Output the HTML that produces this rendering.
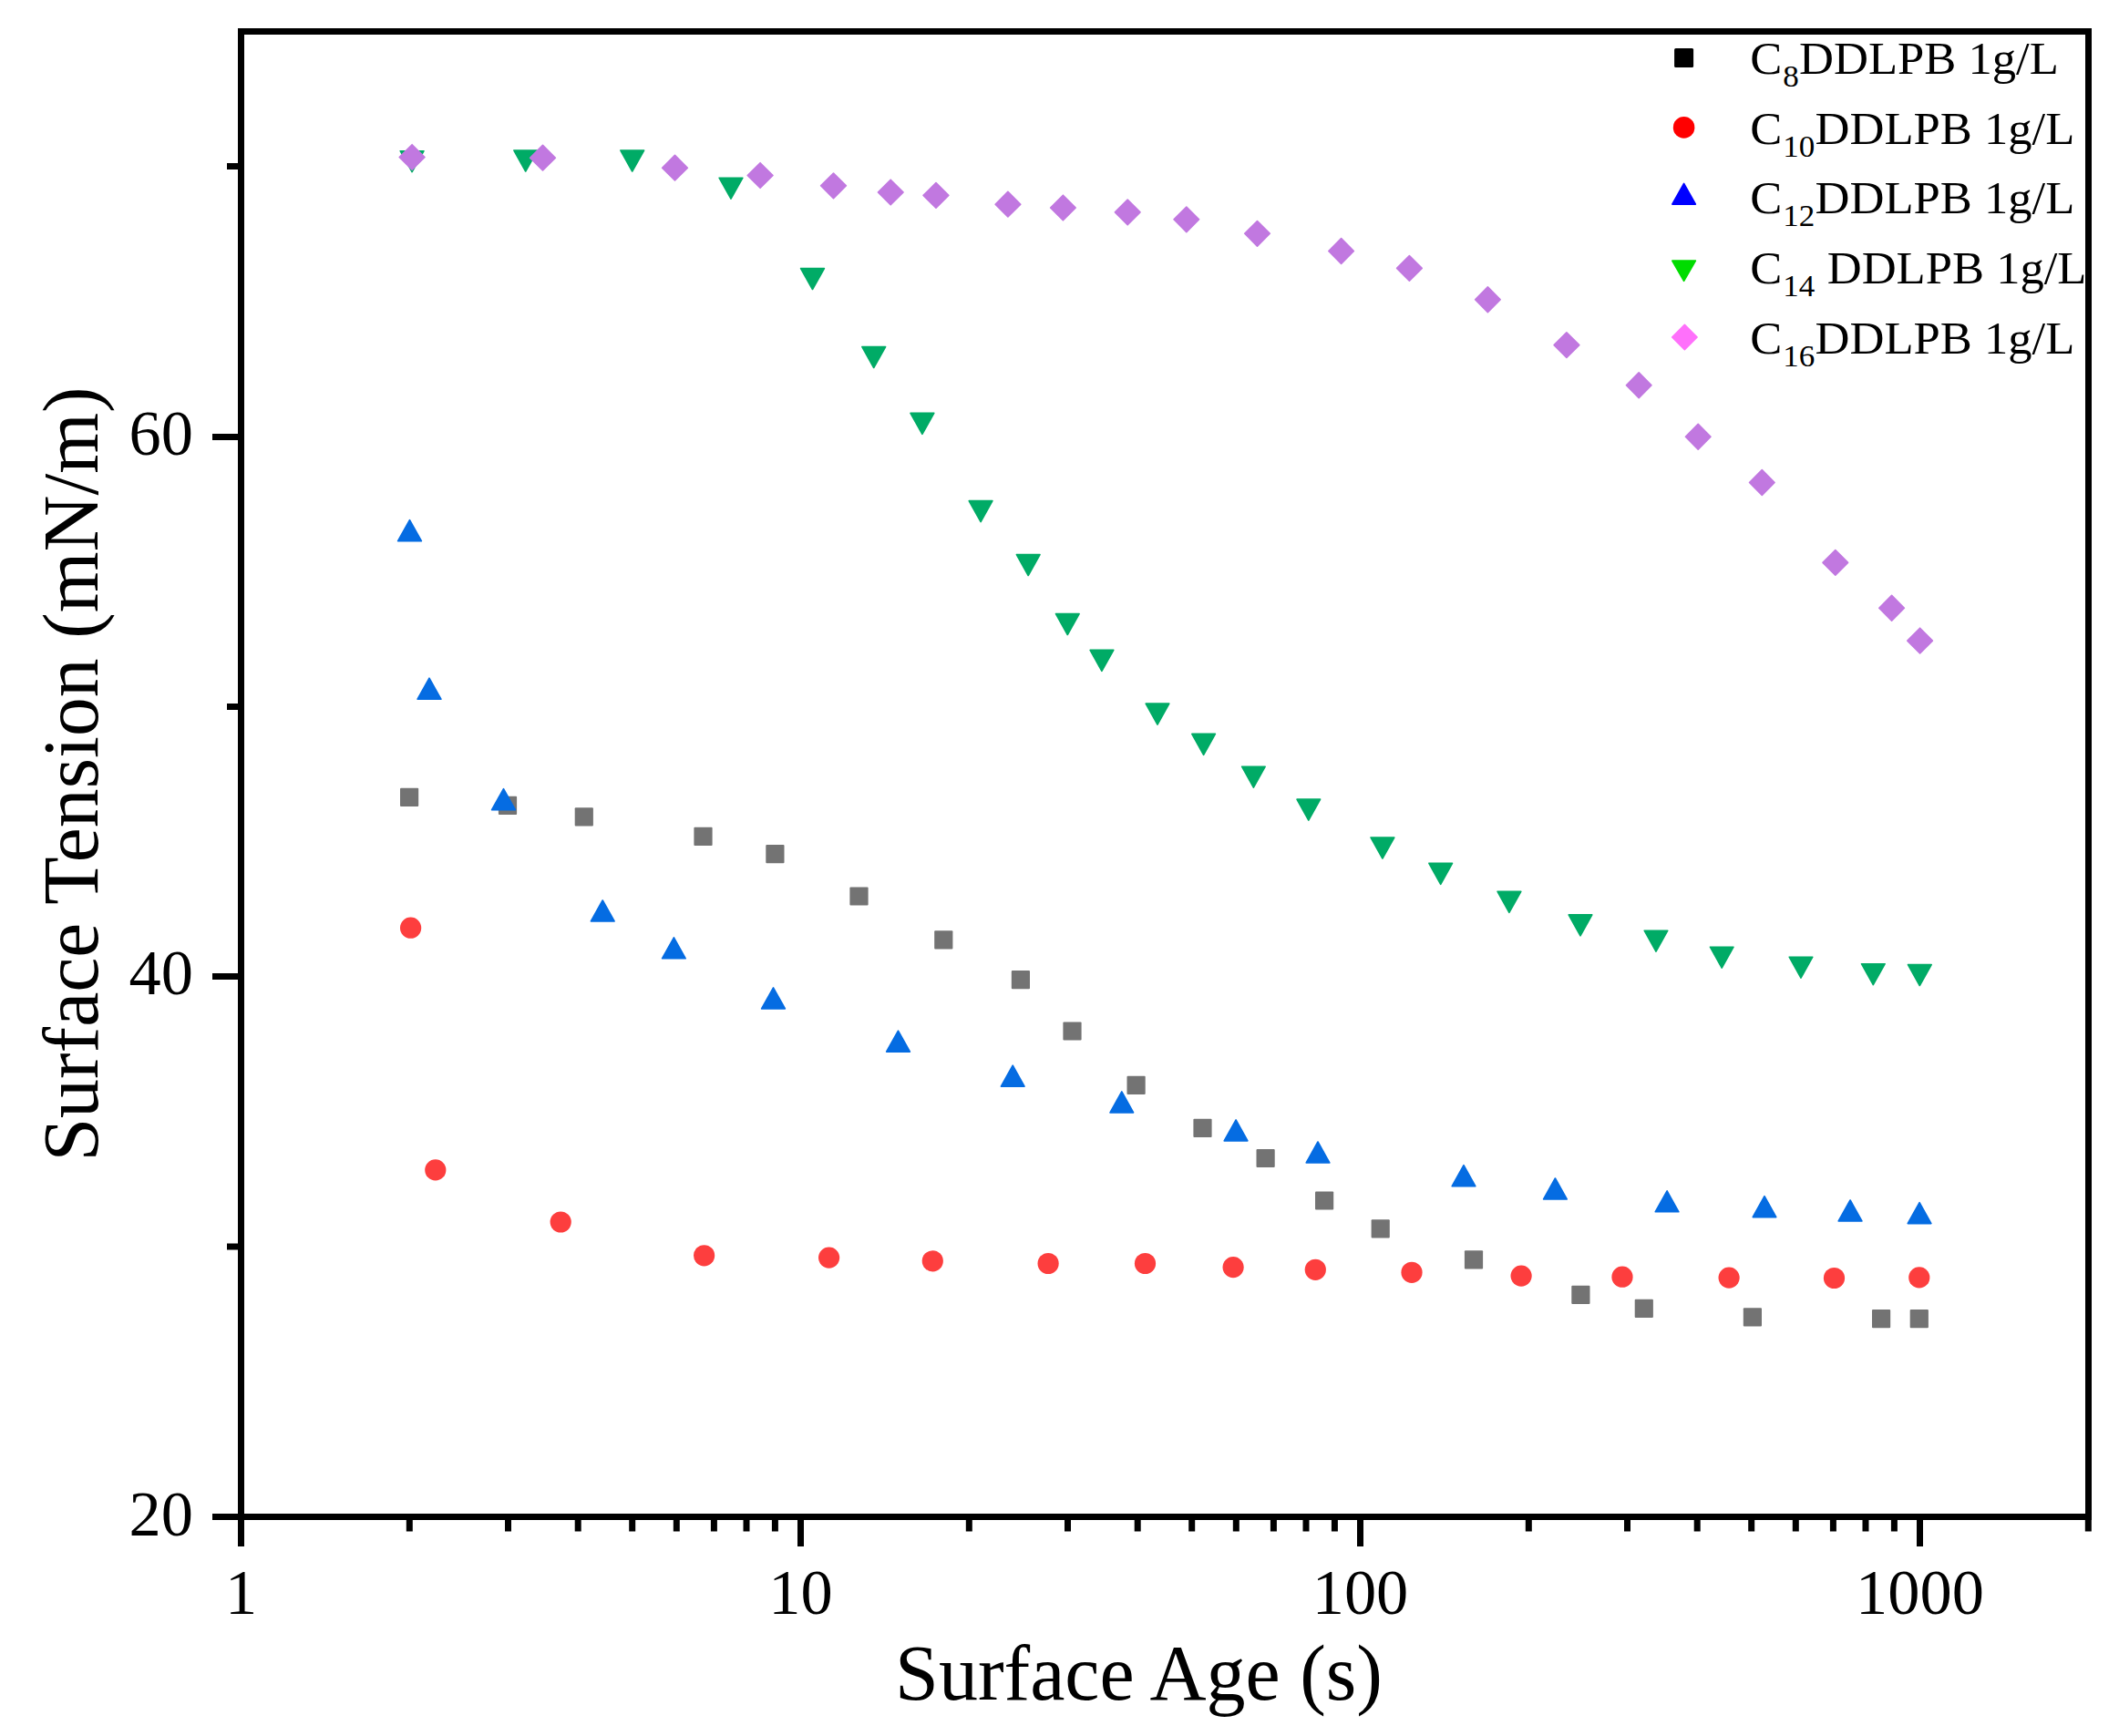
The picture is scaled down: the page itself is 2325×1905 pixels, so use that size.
<!DOCTYPE html>
<html lang="en"><head><meta charset="utf-8"><title>Surface Tension vs Surface Age</title>
<style>html,body{margin:0;padding:0;background:#fff}body{width:2325px;height:1905px;overflow:hidden}svg{display:block}text{font-family:"Liberation Serif","Times New Roman",serif;fill:#000}</style></head><body>
<svg width="2325" height="1905" viewBox="0 0 2325 1905">
<rect width="2325" height="1905" fill="#fff"/>
<g fill="#737373">
<rect x="439" y="864.7" width="20.2" height="20.2" rx="1"/>
<rect x="546.9" y="873.7" width="20.2" height="20.2" rx="1"/>
<rect x="630.7" y="886.2" width="20.2" height="20.2" rx="1"/>
<rect x="761.4" y="907.7" width="20.2" height="20.2" rx="1"/>
<rect x="840.3" y="927" width="20.2" height="20.2" rx="1"/>
<rect x="932.4" y="973.4" width="20.2" height="20.2" rx="1"/>
<rect x="1025.2" y="1021.3" width="20.2" height="20.2" rx="1"/>
<rect x="1109.8" y="1065.1" width="20.2" height="20.2" rx="1"/>
<rect x="1166.4" y="1121.4" width="20.2" height="20.2" rx="1"/>
<rect x="1236.5" y="1180.7" width="20.2" height="20.2" rx="1"/>
<rect x="1309.4" y="1227.8" width="20.2" height="20.2" rx="1"/>
<rect x="1378.5" y="1260.9" width="20.2" height="20.2" rx="1"/>
<rect x="1443" y="1307.4" width="20.2" height="20.2" rx="1"/>
<rect x="1504.6" y="1338.3" width="20.2" height="20.2" rx="1"/>
<rect x="1606.9" y="1372.2" width="20.2" height="20.2" rx="1"/>
<rect x="1724.3" y="1410.7" width="20.2" height="20.2" rx="1"/>
<rect x="1793.7" y="1425.8" width="20.2" height="20.2" rx="1"/>
<rect x="1912.8" y="1435.3" width="20.2" height="20.2" rx="1"/>
<rect x="2054" y="1437" width="20.2" height="20.2" rx="1"/>
<rect x="2095.7" y="1437" width="20.2" height="20.2" rx="1"/>
</g>
<g fill="#FD3E3E">
<circle cx="450.6" cy="1018.2" r="11.6"/>
<circle cx="477.8" cy="1283.9" r="11.6"/>
<circle cx="615.2" cy="1341" r="11.6"/>
<circle cx="772.6" cy="1377.8" r="11.6"/>
<circle cx="909.6" cy="1380.1" r="11.6"/>
<circle cx="1023.3" cy="1383.8" r="11.6"/>
<circle cx="1150.1" cy="1386.5" r="11.6"/>
<circle cx="1256.5" cy="1386.5" r="11.6"/>
<circle cx="1353.1" cy="1390.6" r="11.6"/>
<circle cx="1443.3" cy="1393.3" r="11.6"/>
<circle cx="1549" cy="1396.3" r="11.6"/>
<circle cx="1669.1" cy="1400.1" r="11.6"/>
<circle cx="1780" cy="1401.2" r="11.6"/>
<circle cx="1897.1" cy="1402.1" r="11.6"/>
<circle cx="2012.5" cy="1402.5" r="11.6"/>
<circle cx="2105.8" cy="1401.9" r="11.6"/>
</g>
<g fill="#056CE2" stroke="#056CE2" stroke-width="1.6" stroke-linejoin="round">
<polygon points="449.5,570.7 462.4,593.7 436.6,593.7"/>
<polygon points="471,744.2 483.9,767.2 458.1,767.2"/>
<polygon points="552.5,865.7 565.4,888.7 539.6,888.7"/>
<polygon points="661.2,988 674.1,1011 648.4,1011"/>
<polygon points="739.4,1028.8 752.2,1051.8 726.5,1051.8"/>
<polygon points="848.5,1083.9 861.4,1106.9 835.6,1106.9"/>
<polygon points="985.5,1131.1 998.4,1154.1 972.6,1154.1"/>
<polygon points="1111.2,1169.2 1124,1192.2 1098.4,1192.2"/>
<polygon points="1230.8,1197.9 1243.6,1220.9 1218,1220.9"/>
<polygon points="1356.1,1228.9 1368.9,1251.9 1343.2,1251.9"/>
<polygon points="1446,1253 1458.8,1276 1433.2,1276"/>
<polygon points="1606,1278.7 1618.8,1301.7 1593.2,1301.7"/>
<polygon points="1706.4,1293 1719.2,1316 1693.6,1316"/>
<polygon points="1829.1,1306.8 1841.9,1329.8 1816.2,1329.8"/>
<polygon points="1936,1312.6 1948.8,1335.6 1923.2,1335.6"/>
<polygon points="2030.1,1317 2042.9,1340 2017.2,1340"/>
<polygon points="2106.1,1319.6 2118.9,1342.6 2093.2,1342.6"/>
</g>
<g fill="#00AB66" stroke="#00AB66" stroke-width="1.6" stroke-linejoin="round">
<polygon points="439.2,165.7 465,165.7 452.1,188.7"/>
<polygon points="563.9,165 589.6,165 576.7,188"/>
<polygon points="680.9,165 706.6,165 693.7,188"/>
<polygon points="789.1,195.2 814.9,195.2 802,218.2"/>
<polygon points="878.6,294.5 904.4,294.5 891.5,317.5"/>
<polygon points="945.9,380.5 971.6,380.5 958.7,403.5"/>
<polygon points="999,453.4 1024.8,453.4 1011.9,476.4"/>
<polygon points="1063.2,549.6 1088.9,549.6 1076.1,572.6"/>
<polygon points="1115.4,608.5 1141,608.5 1128.2,631.5"/>
<polygon points="1158.5,673.5 1184.1,673.5 1171.3,696.5"/>
<polygon points="1196.1,713.4 1221.8,713.4 1208.9,736.4"/>
<polygon points="1257.2,772.1 1282.8,772.1 1270,795.1"/>
<polygon points="1307.8,805.4 1333.4,805.4 1320.6,828.4"/>
<polygon points="1362.6,841.2 1388.2,841.2 1375.4,864.2"/>
<polygon points="1423,877.1 1448.6,877.1 1435.8,900.1"/>
<polygon points="1504.1,919 1529.8,919 1516.9,942"/>
<polygon points="1567.9,947.3 1593.5,947.3 1580.7,970.3"/>
<polygon points="1643.1,978.3 1668.8,978.3 1655.9,1001.3"/>
<polygon points="1721.2,1003.9 1746.8,1003.9 1734,1026.9"/>
<polygon points="1804.2,1021.2 1829.8,1021.2 1817,1044.2"/>
<polygon points="1876.4,1039.2 1902,1039.2 1889.2,1062.2"/>
<polygon points="1963.2,1050.2 1988.8,1050.2 1976,1073.2"/>
<polygon points="2042.5,1057.7 2068.2,1057.7 2055.3,1080.7"/>
<polygon points="2093.5,1058.5 2119.2,1058.5 2106.3,1081.5"/>
</g>
<g fill="#C178E0" stroke="#C178E0" stroke-width="1.6" stroke-linejoin="round">
<polygon points="452.1,158.7 466,172.5 452.1,186.3 438.2,172.5"/>
<polygon points="595.5,159.3 609.4,173.2 595.5,187 581.6,173.2"/>
<polygon points="740.5,170.3 754.4,184.2 740.5,198 726.6,184.2"/>
<polygon points="834.1,178.7 848,192.5 834.1,206.3 820.2,192.5"/>
<polygon points="914.5,190 928.4,203.8 914.5,217.7 900.6,203.8"/>
<polygon points="977.2,197.2 991.1,211 977.2,224.8 963.4,211"/>
<polygon points="1027,200.6 1040.8,214.4 1027,228.2 1013.1,214.4"/>
<polygon points="1105.9,210.3 1119.8,224.2 1105.9,238 1092.1,224.2"/>
<polygon points="1166.4,214.2 1180.2,228 1166.4,241.8 1152.6,228"/>
<polygon points="1237.2,219.1 1251,232.9 1237.2,246.8 1223.4,232.9"/>
<polygon points="1301.8,227 1315.6,240.8 1301.8,254.7 1288,240.8"/>
<polygon points="1379.5,242.5 1393.3,256.3 1379.5,270.2 1365.7,256.3"/>
<polygon points="1471.6,261.6 1485.4,275.5 1471.6,289.4 1457.8,275.5"/>
<polygon points="1546.4,280.5 1560.2,294.4 1546.4,308.2 1532.6,294.4"/>
<polygon points="1632.4,314.9 1646.2,328.8 1632.4,342.7 1618.6,328.8"/>
<polygon points="1718.9,364.8 1732.8,378.6 1718.9,392.5 1705.1,378.6"/>
<polygon points="1798.2,408.9 1812,422.8 1798.2,436.7 1784.4,422.8"/>
<polygon points="1863.2,465.4 1877,479.3 1863.2,493.2 1849.4,479.3"/>
<polygon points="1933.3,515.6 1947.1,529.5 1933.3,543.4 1919.5,529.5"/>
<polygon points="2013.8,603.5 2027.6,617.4 2013.8,631.2 2000,617.4"/>
<polygon points="2075.6,653.4 2089.4,667.2 2075.6,681.1 2061.8,667.2"/>
<polygon points="2106.6,689.2 2120.4,703.1 2106.6,717 2092.8,703.1"/>
</g>
<g stroke="#000" stroke-width="7" fill="none">
<rect x="264.5" y="34.5" width="2027.0" height="1630.0"/>
<line x1="264.5" y1="1664.5" x2="264.5" y2="1697.0"/>
<line x1="449.3" y1="1664.5" x2="449.3" y2="1680.5"/>
<line x1="557.5" y1="1664.5" x2="557.5" y2="1680.5"/>
<line x1="634.2" y1="1664.5" x2="634.2" y2="1680.5"/>
<line x1="693.7" y1="1664.5" x2="693.7" y2="1680.5"/>
<line x1="742.3" y1="1664.5" x2="742.3" y2="1680.5"/>
<line x1="783.4" y1="1664.5" x2="783.4" y2="1680.5"/>
<line x1="819" y1="1664.5" x2="819" y2="1680.5"/>
<line x1="850.4" y1="1664.5" x2="850.4" y2="1680.5"/>
<line x1="878.5" y1="1664.5" x2="878.5" y2="1697.0"/>
<line x1="1063.3" y1="1664.5" x2="1063.3" y2="1680.5"/>
<line x1="1171.5" y1="1664.5" x2="1171.5" y2="1680.5"/>
<line x1="1248.2" y1="1664.5" x2="1248.2" y2="1680.5"/>
<line x1="1307.7" y1="1664.5" x2="1307.7" y2="1680.5"/>
<line x1="1356.3" y1="1664.5" x2="1356.3" y2="1680.5"/>
<line x1="1397.4" y1="1664.5" x2="1397.4" y2="1680.5"/>
<line x1="1433" y1="1664.5" x2="1433" y2="1680.5"/>
<line x1="1464.4" y1="1664.5" x2="1464.4" y2="1680.5"/>
<line x1="1492.5" y1="1664.5" x2="1492.5" y2="1697.0"/>
<line x1="1677.3" y1="1664.5" x2="1677.3" y2="1680.5"/>
<line x1="1785.5" y1="1664.5" x2="1785.5" y2="1680.5"/>
<line x1="1862.2" y1="1664.5" x2="1862.2" y2="1680.5"/>
<line x1="1921.7" y1="1664.5" x2="1921.7" y2="1680.5"/>
<line x1="1970.3" y1="1664.5" x2="1970.3" y2="1680.5"/>
<line x1="2011.4" y1="1664.5" x2="2011.4" y2="1680.5"/>
<line x1="2047" y1="1664.5" x2="2047" y2="1680.5"/>
<line x1="2078.4" y1="1664.5" x2="2078.4" y2="1680.5"/>
<line x1="2106.5" y1="1664.5" x2="2106.5" y2="1697.0"/>
<line x1="2291.3" y1="1664.5" x2="2291.3" y2="1680.5"/>
<line x1="233.0" y1="1664.5" x2="264.5" y2="1664.5"/>
<line x1="249.0" y1="1368" x2="264.5" y2="1368"/>
<line x1="233.0" y1="1071.5" x2="264.5" y2="1071.5"/>
<line x1="249.0" y1="775.5" x2="264.5" y2="775.5"/>
<line x1="233.0" y1="479.5" x2="264.5" y2="479.5"/>
<line x1="249.0" y1="182.5" x2="264.5" y2="182.5"/>
</g>
<g font-size="70.4" text-anchor="middle">
<text x="264.5" y="1770.8">1</text>
<text x="878.5" y="1770.8">10</text>
<text x="1492.5" y="1770.8">100</text>
<text x="2106.5" y="1770.8">1000</text>
</g>
<g font-size="70.4" text-anchor="end">
<text x="212" y="1685">20</text>
<text x="212" y="1091">40</text>
<text x="212" y="499">60</text>
</g>
<text x="1249.5" y="1864.7" font-size="86" text-anchor="middle">Surface Age (s)</text>
<text transform="translate(106.8 849.5) rotate(-90)" font-size="85.8" text-anchor="middle">Surface Tension (mN/m)</text>
<rect x="1837.1" y="53" width="21" height="21" rx="1.5" fill="#000"/>
<circle cx="1847.6" cy="139.9" r="11.8" fill="#f00"/>
<polygon points="1847.6,201.4 1860.4,224.1 1834.8,224.1" fill="#00f" stroke="#00f" stroke-width="1.6" stroke-linejoin="round"/>
<polygon points="1834.8,286.1 1860.4,286.1 1847.6,308.3" fill="#00dc00" stroke="#00dc00" stroke-width="1.6" stroke-linejoin="round"/>
<polygon points="1848.4,356.3 1862.1,370 1848.4,383.7 1834.7,370" fill="#ff70fb" stroke="#ff70fb" stroke-width="1.6" stroke-linejoin="round"/>
<g font-size="51" xml:space="preserve" style="white-space:pre">
<text transform="translate(1920.3 80.9) scale(1.031 1)" xml:space="preserve">C<tspan font-size="34" dx="0.8" dy="14.1">8</tspan><tspan dx="0.3" dy="-14.1">DDLPB 1g/L</tspan></text>
<text transform="translate(1920.3 157.6) scale(1.031 1)" xml:space="preserve">C<tspan font-size="34" dx="0.8" dy="14.1">10</tspan><tspan dx="0.3" dy="-14.1">DDLPB 1g/L</tspan></text>
<text transform="translate(1920.3 234.3) scale(1.031 1)" xml:space="preserve">C<tspan font-size="34" dx="0.8" dy="14.1">12</tspan><tspan dx="0.3" dy="-14.1">DDLPB 1g/L</tspan></text>
<text transform="translate(1920.3 311) scale(1.031 1)" xml:space="preserve">C<tspan font-size="34" dx="0.8" dy="14.1">14</tspan><tspan dx="0.3" dy="-14.1"> DDLPB 1g/L</tspan></text>
<text transform="translate(1920.3 387.5) scale(1.031 1)" xml:space="preserve">C<tspan font-size="34" dx="0.8" dy="14.1">16</tspan><tspan dx="0.3" dy="-14.1">DDLPB 1g/L</tspan></text>
</g>
</svg></body></html>
